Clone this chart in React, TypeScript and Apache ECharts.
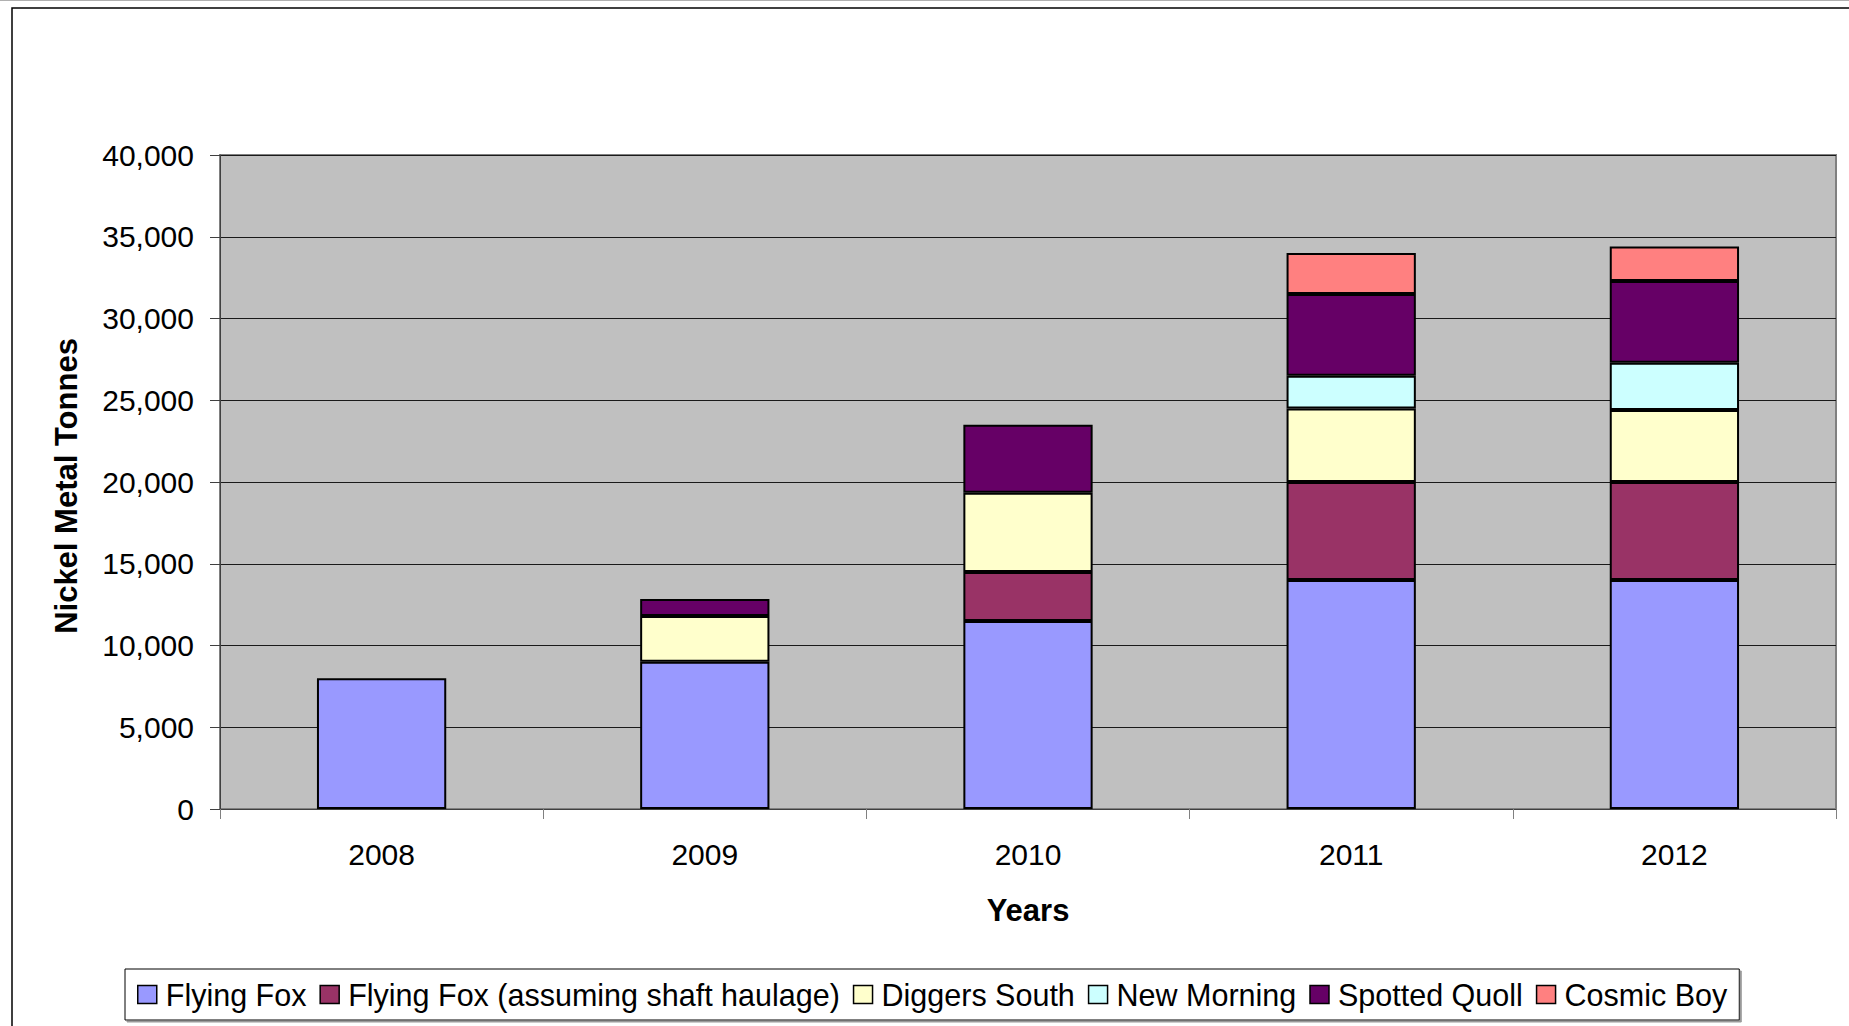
import React, { useEffect, useRef } from "react";
import * as echarts from "echarts";

const categories = ["2008", "2009", "2010", "2011", "2012"];
const flyingFox = [8000, 9000, 11500, 14000, 14000];
const flyingFoxShaft = [null, null, 3000, 6000, 6000];
const diggersSouth = [null, 2800, 4850, 4500, 4400];
const newMorning = [null, null, null, 2000, 2900];
const spottedQuoll = [null, 1050, 4150, 5000, 5000];
const cosmicBoy = [null, null, null, 2500, 2100];

const seriesNames = [
  "Flying Fox",
  "Flying Fox (assuming shaft haulage)",
  "Diggers South",
  "New Morning",
  "Spotted Quoll",
  "Cosmic Boy",
];
const seriesData = [flyingFox, flyingFoxShaft, diggersSouth, newMorning, spottedQuoll, cosmicBoy];
const seriesColors = ["#9999FF", "#993366", "#FFFFCC", "#CCFFFF", "#660066", "#FF8080"];

const yTitle = "Nickel Metal Tonnes";
const xTitle = "Years";

const FONT = "'Liberation Sans', Arial, sans-serif";

export default function App() {
  const ref = useRef<HTMLDivElement>(null);
  useEffect(() => {
    document.body.style.margin = "0";
    const chart = echarts.init(ref.current!, undefined, { renderer: "svg" });
    chart.setOption({
      animation: false,
      backgroundColor: "#ffffff",
      textStyle: { fontFamily: FONT },
      grid: {
        left: 220,
        right: 13,
        top: 155,
        bottom: 217,
        show: true,
        backgroundColor: "#C0C0C0",
        borderColor: "#808080",
        borderWidth: 2,
      },
      legend: {
        left: 125,
        top: 969,
        orient: "horizontal",
        padding: [10, 12],
        itemGap: 13,
        itemWidth: 19,
        itemHeight: 18,
        borderColor: "#000",
        borderWidth: 1,
        shadowColor: "#9a9a9a",
        shadowOffsetX: 2,
        shadowOffsetY: 2,
        shadowBlur: 0,
        backgroundColor: "#ffffff",
        icon: "rect",
        itemStyle: { borderColor: "#000", borderWidth: 1.5 },
        textStyle: { fontSize: 30.5, color: "#000", fontFamily: FONT, padding: [0, 0, 0, 4] },
        data: seriesNames,
      },
      xAxis: {
        type: "category",
        data: categories,
        boundaryGap: true,
        axisLine: { show: true, lineStyle: { color: "#404040", width: 1 } },
        axisTick: { show: true, inside: false, length: 10, lineStyle: { color: "#808080" } },
        axisLabel: { fontSize: 30, color: "#000", margin: 30, fontFamily: FONT },
        splitLine: { show: false },
      },
      yAxis: {
        type: "value",
        min: 0,
        max: 40000,
        interval: 5000,
        axisLine: { show: true, lineStyle: { color: "#404040", width: 1 } },
        axisTick: { show: true, inside: false, length: 10, lineStyle: { color: "#404040" } },
        axisLabel: {
          fontSize: 30,
          color: "#000",
          margin: 26,
          fontFamily: FONT,
          formatter: (v: number) => v.toLocaleString("en-US"),
        },
        splitLine: { show: true, lineStyle: { color: "#1a1a1a", width: 1 } },
      },
      series: seriesNames.map((name, i) => ({
        name,
        type: "bar",
        stack: "total",
        barWidth: "40%",
        data: seriesData[i],
        itemStyle: { color: seriesColors[i], borderColor: "#000", borderWidth: 2 },
      })),
      graphic: [
        {
          type: "line",
          shape: { x1: 0, y1: 0.5, x2: 1849, y2: 0.5 },
          style: { stroke: "#b0b0b0", lineWidth: 1 },
        },
        {
          type: "rect",
          shape: { x: 12, y: 8, width: 3000, height: 3000 },
          style: { fill: "none", stroke: "#000", lineWidth: 1.5 },
          silent: true,
        },
        {
          type: "text",
          x: 1028,
          y: 910,
          style: {
            text: xTitle,
            font: `bold 31px ${FONT}`,
            fill: "#000",
            align: "center",
            verticalAlign: "middle",
          },
        },
        {
          type: "text",
          x: 66,
          y: 486,
          rotation: Math.PI / 2,
          style: {
            text: yTitle,
            font: `bold 31px ${FONT}`,
            fill: "#000",
            align: "center",
            verticalAlign: "middle",
          },
        },
      ],
    });
    return () => chart.dispose();
  }, []);
  return (
    <div
      ref={ref}
      style={{ position: "absolute", left: 0, top: 0, width: 1849, height: 1026 }}
    />
  );
}
